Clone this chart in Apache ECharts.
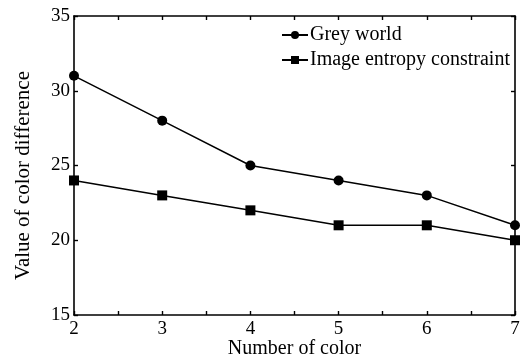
<!DOCTYPE html>
<html><head><meta charset="utf-8">
<script src="https://cdn.jsdelivr.net/npm/echarts@6/dist/echarts.min.js"></script>
<style>html,body{margin:0;padding:0;background:#fff}#c{width:530px;height:356px}</style>
</head><body><div id="c"></div>
<script>
const categories = [2, 3, 4, 5, 6, 7];
const greyWorld = [31, 28, 25, 24, 23, 21];
const entropy = [24, 23, 22, 21, 21, 20];
const seriesNames = ['Grey world', 'Image entropy constraint'];

const font = 'Liberation Serif';
const chart = echarts.init(document.getElementById('c'));
const axisLine = {show: true, lineStyle: {color: '#000', width: 1.6}};
const tick = {show: true, inside: true, length: 4, lineStyle: {color: '#000', width: 1.4}};
chart.setOption({
  animation: false,
  backgroundColor: '#fff',
  textStyle: {fontFamily: font},
  grid: {left: 74, right: 15, top: 16, bottom: 41, containLabel: false, outerBoundsMode: 'none'},
  legend: {
    top: 25, left: 281, orient: 'vertical', itemGap: 5, padding: 0,
    itemWidth: 26, itemHeight: 10,
    textStyle: {fontFamily: font, fontSize: 20, color: '#000', padding: [0, 0, 0, -3]},
    data: seriesNames
  },
  xAxis: [{
    type: 'value', min: 2, max: 7, interval: 0.5, position: 'bottom',
    name: 'Number of color', nameLocation: 'middle', nameGap: 24, nameMoveOverlap: false,
    nameTextStyle: {fontFamily: font, fontSize: 20, color: '#000'},
    axisLine: axisLine, axisTick: tick,
    axisLabel: {fontFamily: font, fontSize: 19, color: '#000', margin: 5,
      formatter: v => Number.isInteger(v) ? String(v) : ''},
    splitLine: {show: false}
  }, {
    type: 'value', min: 2, max: 7, interval: 0.5, position: 'top',
    axisLine: axisLine, axisTick: tick,
    axisLabel: {show: false}, splitLine: {show: false}
  }],
  yAxis: [{
    type: 'value', min: 15, max: 35, interval: 5, position: 'left',
    name: 'Value of color difference', nameLocation: 'middle', nameGap: 40, nameMoveOverlap: false,
    nameTextStyle: {fontFamily: font, fontSize: 21, color: '#000', padding: [0, 20, 0, 0]},
    axisLine: axisLine, axisTick: tick,
    axisLabel: {fontFamily: font, fontSize: 19, color: '#000', margin: 4},
    splitLine: {show: false}
  }, {
    type: 'value', min: 15, max: 35, interval: 5, position: 'right',
    axisLine: axisLine, axisTick: tick,
    axisLabel: {show: false}, splitLine: {show: false}
  }],
  series: [{
    name: seriesNames[0], type: 'line', xAxisIndex: 0, yAxisIndex: 0,
    data: categories.map((c, i) => [c, greyWorld[i]]),
    symbol: 'circle', symbolSize: 10, showAllSymbol: true,
    lineStyle: {color: '#000', width: 1.5}, itemStyle: {color: '#000'}
  }, {
    name: seriesNames[1], type: 'line', xAxisIndex: 0, yAxisIndex: 0,
    data: categories.map((c, i) => [c, entropy[i]]),
    symbol: 'rect', symbolSize: 10, showAllSymbol: true,
    lineStyle: {color: '#000', width: 1.5}, itemStyle: {color: '#000'}
  }]
});
</script></body></html>
